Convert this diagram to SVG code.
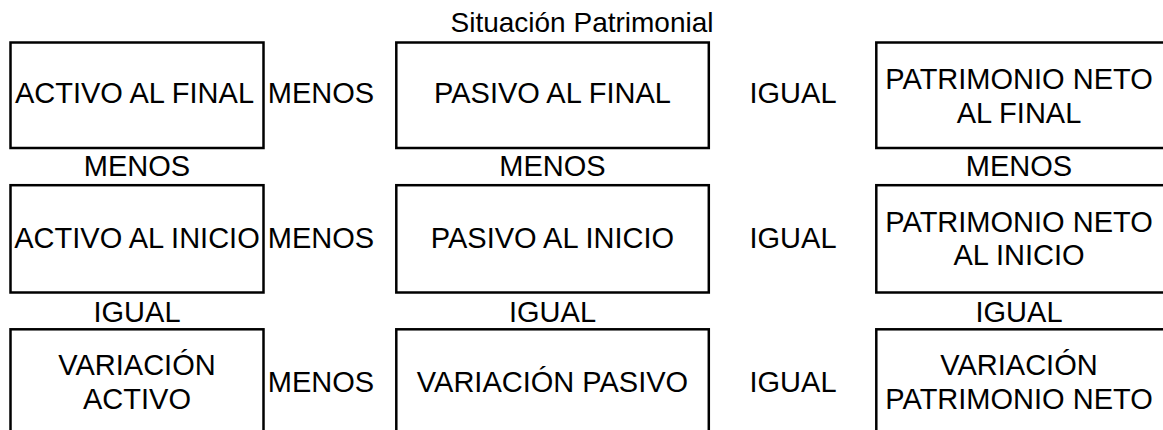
<svg xmlns="http://www.w3.org/2000/svg" width="1163" height="430" viewBox="0 0 1163 430">
  <style>
    .box { fill: #ffffff; stroke: #000000; stroke-width: 2.5; }
    text { font-family: "Liberation Sans", Arial, sans-serif; font-size: 29px; fill: #000000; text-anchor: middle; }
    .title { font-size: 28px; }
  </style>
  <rect x="0" y="0" width="1163" height="430" fill="#ffffff"/>
  <text id="title" class="title" x="582" y="32">Situación Patrimonial</text>

  <g id="activo-final">
    <rect class="box" x="10.5" y="42.5" width="253" height="105.5"/>
    <text x="134.5" y="102.5">ACTIVO AL FINAL</text>
  </g>
  <g id="pasivo-final">
    <rect class="box" x="396.3" y="42.5" width="312.5" height="105.5"/>
    <text x="552.5" y="102.5">PASIVO AL FINAL</text>
  </g>
  <g id="pn-final">
    <rect class="box" x="876.3" y="42.5" width="300" height="105.5"/>
    <text x="1019" y="88.5">PATRIMONIO NETO</text>
    <text x="1019" y="122.5">AL FINAL</text>
  </g>

  <g id="activo-inicio">
    <rect class="box" x="10.5" y="185.2" width="253" height="107.3"/>
    <text x="137" y="247.5">ACTIVO AL INICIO</text>
  </g>
  <g id="pasivo-inicio">
    <rect class="box" x="396.3" y="185.2" width="312.5" height="107.3"/>
    <text x="552.5" y="247.5">PASIVO AL INICIO</text>
  </g>
  <g id="pn-inicio">
    <rect class="box" x="876.3" y="185.2" width="300" height="107.3"/>
    <text x="1019" y="231.5">PATRIMONIO NETO</text>
    <text x="1019" y="265">AL INICIO</text>
  </g>

  <g id="variacion-activo">
    <rect class="box" x="10.5" y="329.3" width="253" height="107"/>
    <text x="137" y="375">VARIACIÓN</text>
    <text x="137" y="408.5">ACTIVO</text>
  </g>
  <g id="variacion-pasivo">
    <rect class="box" x="396.3" y="329.3" width="312.5" height="107"/>
    <text x="552.5" y="391.5">VARIACIÓN PASIVO</text>
  </g>
  <g id="variacion-pn">
    <rect class="box" x="876.3" y="329.3" width="300" height="107"/>
    <text x="1019" y="375">VARIACIÓN</text>
    <text x="1019" y="408.5">PATRIMONIO NETO</text>
  </g>

  <g id="connectors">
    <text x="321" y="102.5">MENOS</text>
    <text x="793" y="102.5">IGUAL</text>
    <text x="321" y="247.5">MENOS</text>
    <text x="793" y="247.5">IGUAL</text>
    <text x="321" y="391.5">MENOS</text>
    <text x="793" y="391.5">IGUAL</text>
    <text x="137" y="176">MENOS</text>
    <text x="552.5" y="176">MENOS</text>
    <text x="1019" y="176">MENOS</text>
    <text x="137" y="321.5">IGUAL</text>
    <text x="552.5" y="321.5">IGUAL</text>
    <text x="1019" y="321.5">IGUAL</text>
  </g>
</svg>
